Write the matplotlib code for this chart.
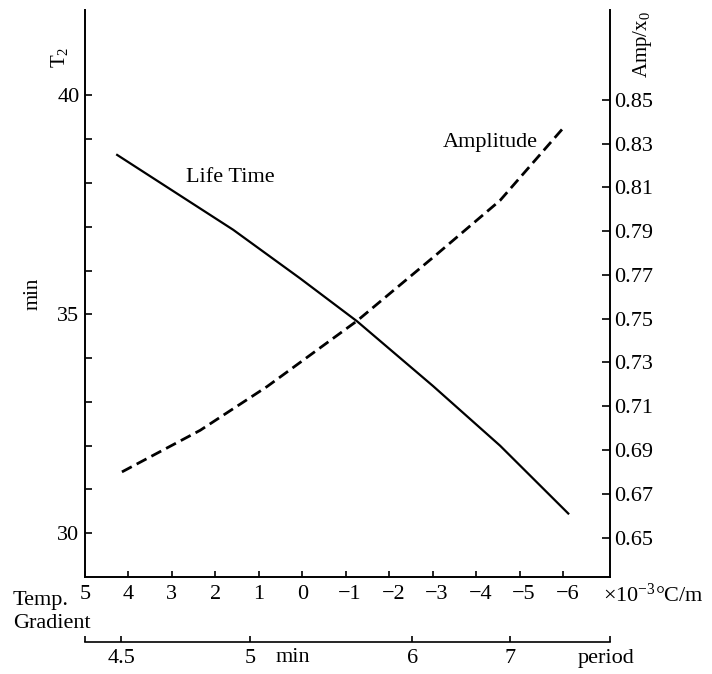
import matplotlib
matplotlib.use('Agg')
import matplotlib.pyplot as plt
import matplotlib.transforms as mtransforms

plt.rcParams['font.family'] = ['Liberation Serif', 'DejaVu Serif']
plt.rcParams['mathtext.fontset'] = 'custom'
plt.rcParams['mathtext.rm'] = 'Liberation Serif'
plt.rcParams['mathtext.it'] = 'Liberation Serif'

# temperature gradient (x 10^-3 C/m) and life time T2 (min)
life_grad = [4.26, 1.59, 0.05, -1.26, -3.01, -4.55, -6.12]
life_t2 = [38.64, 36.93, 35.82, 34.84, 33.36, 32.0, 30.45]

# amplitude Amp/x0
amp_grad = [4.15, 2.35, 0.81, -1.26, -3.01, -4.55, -6.0]
amp_val = [0.680, 0.699, 0.719, 0.749, 0.778, 0.804, 0.837]

grad_ticks = [5, 4, 3, 2, 1, 0, -1, -2, -3, -4, -5, -6]
grad_labels = ['5', '4', '3', '2', '1', '0', '−1', '−2', '−3', '−4', '−5', '−6']

# period scale (non-linear), positions given on the gradient scale
period_pos = [4.17, 1.20, -2.53, -4.78]
period_labels = ['4.5', '5', '6', '7']

t2_major = [30, 35, 40]
t2_minor = [31, 32, 33, 34, 36, 37, 38, 39]
amp_ticks = [0.65, 0.67, 0.69, 0.71, 0.73, 0.75, 0.77, 0.79, 0.81, 0.83, 0.85]

W, H = 712, 674
fig = plt.figure(figsize=(W / 100, H / 100), dpi=100)
ax = fig.add_axes([85 / W, 1 - 577 / H, (610 - 85) / W, (577 - 10) / H])

ax.plot(life_grad, life_t2, color='black', linewidth=1.6)
ax.set_xlim(5, -7.08)
ax.set_ylim(29.0, 41.95)

ax.spines['top'].set_visible(False)
ax.spines['right'].set_visible(False)
for s in ['left', 'bottom']:
    ax.spines[s].set_linewidth(1.4)

ax.set_yticks(t2_major)
ax.set_yticks(t2_minor, minor=True)
ax.tick_params(axis='y', which='both', direction='in', length=5, width=1.2,
               labelsize=16, pad=4)
ax.set_xticks(grad_ticks)
ax.set_xticklabels(grad_labels)
ax.tick_params(axis='x', direction='in', length=4, width=1.2, labelsize=16, pad=6)

# shift negative labels so that the digit sits on the tick
shift = mtransforms.ScaledTranslation(3.0 / 72, 0, fig.dpi_scale_trans)
for lab in ax.get_xticklabels():
    if lab.get_text().startswith('−'):
        lab.set_transform(lab.get_transform() + shift)

ax2 = ax.twinx()
ax2.plot(amp_grad, amp_val, color='black', linewidth=2.0, dashes=(4, 2))
ax2.set_ylim(0.632, 0.891)
ax2.set_yticks(amp_ticks)
ax2.set_yticklabels([f'{v:.2f}' for v in amp_ticks])
for s in ['top', 'left', 'bottom']:
    ax2.spines[s].set_visible(False)
ax2.spines['right'].set_linewidth(1.4)
ax2.tick_params(axis='y', direction='in', length=5.5, width=1.2, labelsize=16, pad=3)

# period axis below
ax3 = ax.twiny()
ax3.set_xlim(ax.get_xlim())
for s in ['top', 'left', 'right']:
    ax3.spines[s].set_visible(False)
ax3.spines['bottom'].set_visible(True)
ax3.spines['bottom'].set_position(('outward', 46.8))
ax3.spines['bottom'].set_linewidth(1.2)
ax3.xaxis.set_ticks_position('bottom')
ax3.set_xticks(period_pos + [4.99, -7.07])
ax3.set_xticklabels(period_labels + ['', ''])
ax3.tick_params(axis='x', direction='in', length=4, width=1.2, labelsize=16, pad=5)

fig.text(230 / W, 1 - 177 / H, 'Life Time', fontsize=16, ha='center', va='center')
fig.text(490 / W, 1 - 142 / H, 'Amplitude', fontsize=16, ha='center', va='center')
fig.text(60 / W, 1 - 57 / H, 'T$_2$', fontsize=15, rotation=90, ha='center', va='center')
fig.text(33 / W, 1 - 294 / H, 'min', fontsize=15, rotation=90, ha='center', va='center')
fig.text(643 / W, 1 - 45 / H, 'Amp/x$_0$', fontsize=15, rotation=90, ha='center', va='center')
fig.text(13 / W, 1 - 605 / H, 'Temp.', fontsize=16, ha='left', va='baseline')
fig.text(13 / W, 1 - 628 / H, 'Gradient', fontsize=16, ha='left', va='baseline')
fig.text(603 / W, 1 - 595 / H, '×10$^{-3}$°C/m', fontsize=16, ha='left', va='center')
fig.text(293 / W, 1 - 658 / H, 'min', fontsize=16, ha='center', va='center')
fig.text(606 / W, 1 - 658 / H, 'period', fontsize=16, ha='center', va='center')

fig.savefig('out.png', dpi=100, facecolor='white')
